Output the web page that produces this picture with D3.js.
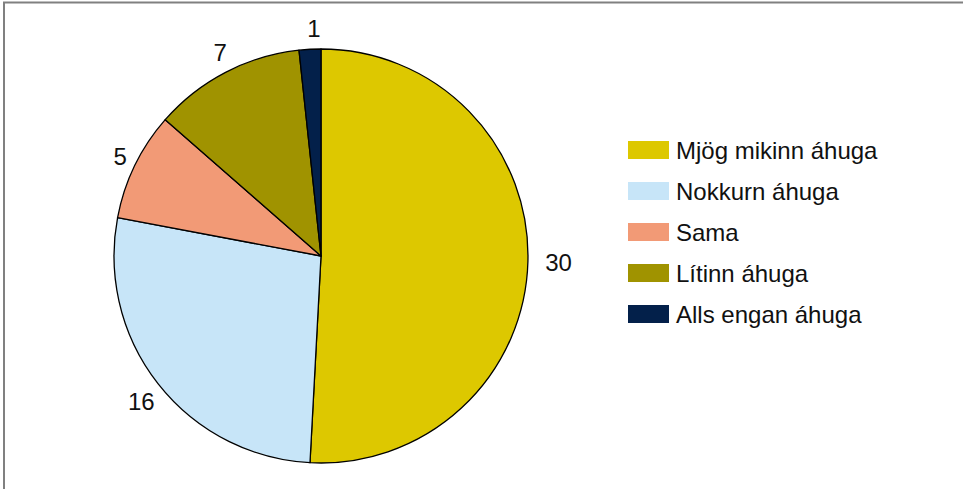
<!DOCTYPE html>
<html>
<head>
<meta charset="utf-8">
<script src="https://cdn.jsdelivr.net/npm/d3@7"></script>
<style>
  body { margin: 0; background: #fff; }
  text { font-family: "Liberation Sans", Arial, Helvetica, sans-serif; fill: #111; }
</style>
</head>
<body>
<svg id="chart" width="963" height="489"></svg>
<script>
// answers, in clockwise order from 12 o'clock
var categories = ["Mjög mikinn áhuga", "Nokkurn áhuga", "Sama", "Lítinn áhuga", "Alls engan áhuga"];
var counts = [30, 16, 5, 7, 1];
var colors = ["#ddc800", "#c7e5f8", "#f29a76", "#a09300", "#03204a"];

var svg = d3.select("#chart");
var cx = 321, cy = 256, radius = 207,
    font_size = 24;

// frame (top and left only)
svg.append("path")
    .attr("d", "M4,489 V2.5 H963")
    .attr("fill", "none")
    .attr("stroke", "#808080")
    .attr("stroke-width", 2);

var data = categories.map(function(c, i) {
  return {name: c, value: counts[i], color: colors[i]};
});

var pie = d3.pie()
    .sort(null)
    .value(function(d) { return d.value; });

var arc = d3.arc()
    .innerRadius(0)
    .outerRadius(radius);

var g = svg.append("g")
    .attr("transform", "translate(" + cx + "," + cy + ")");

var slices = pie(data);

g.selectAll("path.slice")
    .data(slices)
  .enter().append("path")
    .attr("class", "slice")
    .attr("d", arc)
    .attr("fill", function(d) { return d.data.color; })
    .attr("stroke", "#000")
    .attr("stroke-width", 1.3)
    .attr("stroke-linejoin", "round");

// value labels just outside the rim
var labels = g.selectAll("text.value")
    .data(slices)
  .enter().append("text")
    .attr("class", "value")
    .attr("text-anchor", "middle")
    .style("font-size", font_size + "px")
    .text(function(d) { return d.data.value; });

labels.each(function(d) {
  var w = this.getBBox().width,
      h = font_size * 0.72;
  var a = (d.startAngle + d.endAngle) / 2;
  var ux = Math.sin(a), uy = -Math.cos(a);
  var dist = radius + 12 + Math.abs(ux) * w / 2 + Math.abs(uy) * h / 2;
  d3.select(this)
    .attr("x", ux * dist + 5)
    .attr("y", uy * dist + h / 2);
});

// legend
var legend = svg.append("g")
    .attr("transform", "translate(628,141)");

var row = legend.selectAll("g.row")
    .data(data)
  .enter().append("g")
    .attr("class", "row")
    .attr("transform", function(d, i) { return "translate(0," + (i * 41) + ")"; });

row.append("rect")
    .attr("width", 41)
    .attr("height", 18)
    .attr("fill", function(d) { return d.color; });

row.append("text")
    .attr("x", 48)
    .attr("y", 9 + font_size * 0.36)
    .style("font-size", font_size + "px")
    .text(function(d) { return d.name; });
</script>
</body>
</html>
